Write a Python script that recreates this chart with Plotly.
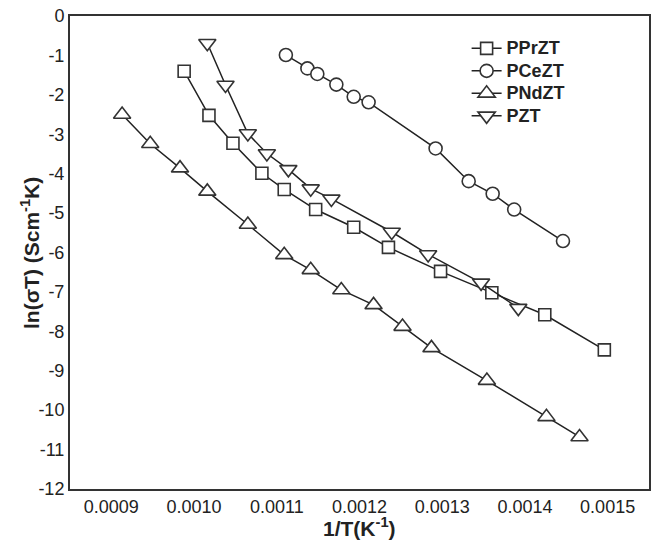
import plotly.graph_objects as go

# PPrZT (squares)
pprzt_x = [0.000988, 0.001018, 0.001047, 0.001082, 0.001109, 0.001147, 0.001193,
           0.001235, 0.001298, 0.001360, 0.001424, 0.001496]
pprzt_y = [-1.40, -2.52, -3.23, -3.99, -4.40, -4.91, -5.36, -5.87, -6.48, -7.02, -7.58, -8.47]

# PCeZT (circles)
pcezt_x = [0.001111, 0.001137, 0.001149, 0.001172, 0.001193, 0.001211, 0.001292,
           0.001332, 0.001361, 0.001387, 0.001446]
pcezt_y = [-0.99, -1.33, -1.47, -1.74, -2.05, -2.19, -3.36, -4.19, -4.51, -4.91, -5.71]

# PNdZT (up triangles)
pndzt_x = [0.000913, 0.000947, 0.000983, 0.001016, 0.001065, 0.001109, 0.001141,
           0.001178, 0.001217, 0.001252, 0.001287, 0.001354, 0.001426, 0.001466]
pndzt_y = [-2.50, -3.24, -3.86, -4.45, -5.29, -6.06, -6.44, -6.95, -7.33, -7.88,
           -8.42, -9.25, -10.17, -10.68]

# PZT (down triangles)
pzt_x = [0.001016, 0.001038, 0.001065, 0.001088, 0.001114, 0.001141, 0.001166,
         0.001239, 0.001283, 0.001347, 0.001392]
pzt_y = [-0.69, -1.75, -2.98, -3.49, -3.89, -4.38, -4.64, -5.48, -6.05, -6.77, -7.41]

x_tick_vals = [0.0009, 0.0010, 0.0011, 0.0012, 0.0013, 0.0014, 0.0015]
x_tick_text = ["0.0009", "0.0010", "0.0011", "0.0012", "0.0013", "0.0014", "0.0015"]
y_tick_vals = [0, -1, -2, -3, -4, -5, -6, -7, -8, -9, -10, -11, -12]
y_tick_text = ["0", "-1", "-2", "-3", "-4", "-5", "-6", "-7", "-8", "-9", "-10", "-11", "-12"]

series = [
    ("PPrZT", pprzt_x, pprzt_y, "square", 12),
    ("PCeZT", pcezt_x, pcezt_y, "circle", 13),
    ("PNdZT", pndzt_x, pndzt_y, "triangle-up", 15),
    ("PZT", pzt_x, pzt_y, "triangle-down", 15),
]

FONT = "Liberation Sans, Arial, sans-serif"

fig = go.Figure()
for name, xs, ys, sym, sz in series:
    fig.add_trace(go.Scatter(
        x=xs, y=ys, mode="lines+markers",
        name='<span style="font-size:18px">' + name + "</span>",
        line=dict(color="#222222", width=1.5),
        marker=dict(symbol=sym, size=sz, color="white",
                    line=dict(color="#333333", width=1.6)),
    ))

fig.update_layout(
    width=659, height=543,
    margin=dict(l=70, r=10, t=16, b=54),
    plot_bgcolor="white", paper_bgcolor="white",
    font=dict(family=FONT, size=18, color="#222222"),
    showlegend=True,
    legend=dict(x=0.685, y=0.966, xanchor="left", yanchor="top",
                bgcolor="rgba(0,0,0,0)",
                font=dict(size=15, family=FONT, weight="bold", color="#222222"),
                tracegroupgap=0),
    annotations=[
        dict(text="<b>1/T(K<sup>-1</sup>)</b>", xref="paper", yref="paper",
             x=0.5, y=-0.08, xanchor="center", yanchor="middle",
             showarrow=False, font=dict(size=21, family=FONT, color="#222222")),
        dict(text="<b>ln(σT) (Scm<sup>-1</sup>K)</b>", xref="paper", yref="paper",
             x=-0.07, y=0.5, xanchor="center", yanchor="middle", textangle=-90,
             showarrow=False, font=dict(size=21, family=FONT, color="#222222")),
    ],
)
fig.update_xaxes(
    range=[0.00085, 0.00155], tickvals=x_tick_vals, ticktext=x_tick_text,
    showgrid=False, zeroline=False, showline=True, linecolor="#333333", linewidth=2,
    mirror=True, ticks="", tickfont=dict(size=18), automargin=False,
)
fig.update_yaxes(
    range=[-12, 0], tickvals=y_tick_vals, ticktext=y_tick_text,
    showgrid=False, zeroline=False, showline=True, linecolor="#333333", linewidth=2,
    mirror=True, ticks="", tickfont=dict(size=18), automargin=False,
)

fig.write_html("out.html",
               config={"displayModeBar": False},
               post_script="document.body.style.margin='0';document.body.style.overflow='hidden';")
